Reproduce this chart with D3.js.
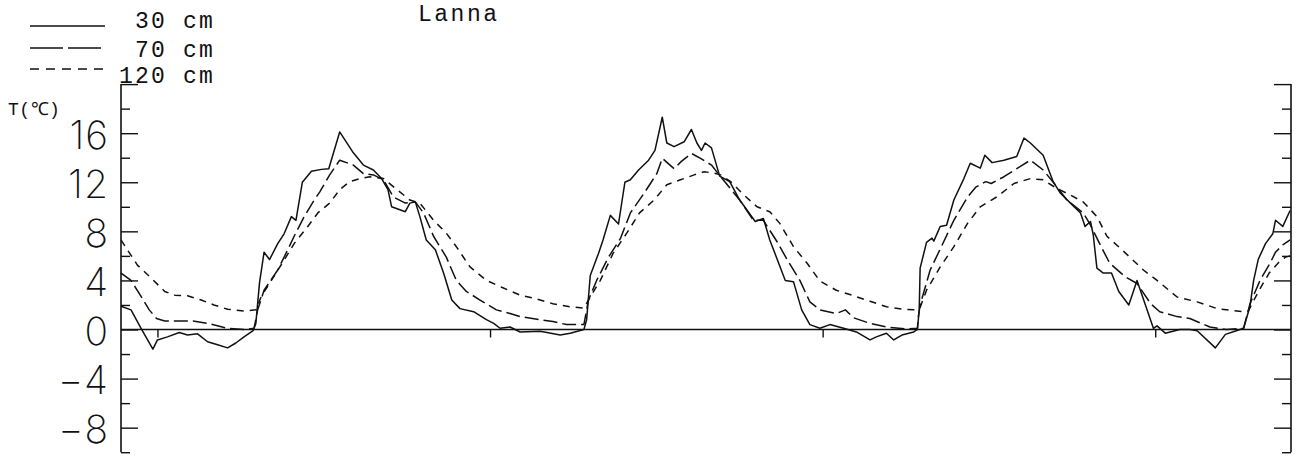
<!DOCTYPE html>
<html>
<head>
<meta charset="utf-8">
<script src="https://cdn.jsdelivr.net/npm/d3@7"></script>
<style>
  html, body { margin: 0; padding: 0; background: #fff; }
  svg { display: block; }
  .mono { font-family: "Liberation Mono", "DejaVu Sans Mono", monospace; fill: #111; }
  .ylab { font-family: "Inter", "Open Sans", "DejaVu Sans", sans-serif; font-weight: 200; fill: #111; }
</style>
</head>
<body>
<svg id="chart" width="1304" height="459"></svg>
<script>
// Soil temperature at Lanna, three depths: [day, °C]; day 0 = start of first year
const soil30cm = [
  [-40,1.9],[-29,1.6],[-18,0.1],[-5,-1.6],[0,-0.85],[11,-0.6],[24,-0.25],[33,-0.45],[44,-0.35],
  [55,-1.0],[66,-1.25],[77,-1.5],[86,-1.1],[95,-0.6],[105,-0.1],[108,0.5],[112,3.8],[117,6.3],
  [123,5.7],[132,7.0],[139,7.8],[147,9.2],[152,8.9],[159,12.0],[169,12.9],[180,13.05],[188,13.1],
  [200,16.1],[215,14.4],[226,13.4],[237,13.0],[246,12.3],[253,11.4],[257,10.0],[272,9.6],[277,10.3],
  [283,10.4],[288,9.2],[295,7.3],[305,6.5],[314,4.6],[323,2.4],[332,1.7],[347,1.45],[361,0.8],
  [369,0.5],[376,0.1],[387,0.2],[398,-0.2],[420,-0.15],[442,-0.45],[453,-0.3],[468,0.0],[471,0.8],
  [475,4.4],[484,6.2],[489,7.3],[497,9.3],[506,8.6],[513,12.0],[519,12.2],[528,13.0],[539,13.8],
  [546,14.6],[554,17.3],[559,15.2],[567,14.9],[578,15.3],[586,16.3],[592,15.2],[597,14.6],[601,15.2],
  [608,14.8],[617,12.5],[628,12.05],[639,10.55],[656,8.8],[665,9.05],[672,7.3],[689,4.0],[698,3.9],
  [707,1.6],[716,0.4],[727,0.1],[738,0.4],[753,0.1],[767,-0.2],[782,-0.85],[789,-0.6],[800,-0.3],
  [808,-0.85],[817,-0.45],[830,-0.2],[834,0.0],[836,1.6],[837,5.0],[844,7.1],[850,7.45],[852,7.2],
  [859,8.4],[866,8.5],[874,10.55],[885,12.3],[892,13.55],[903,13.15],[908,14.2],[916,13.6],[929,13.8],
  [943,14.1],[951,15.6],[958,15.2],[972,14.2],[983,12.05],[991,11.1],[1002,10.3],[1013,9.5],[1018,8.4],
  [1024,8.8],[1027,7.7],[1031,5.0],[1038,4.6],[1047,4.6],[1055,3.1],[1066,2.0],[1075,4.0],[1093,0.1],
  [1097,0.3],[1106,-0.3],[1122,0.0],[1133,0.0],[1141,-0.1],[1161,-1.5],[1172,-0.4],[1184,-0.1],
  [1192,0.1],[1199,1.9],[1203,4.0],[1208,5.7],[1216,7.0],[1224,7.8],[1227,8.9],[1235,8.4],[1243,9.7]
];
const soil70cm = [
  [-40,4.6],[-29,4.0],[-18,2.7],[-9,1.6],[-1,0.9],[8,0.7],[39,0.7],[55,0.5],[77,0.1],[95,0.0],
  [106,0.1],[110,1.6],[117,3.2],[132,4.85],[143,6.5],[150,7.6],[161,9.2],[172,10.55],[178,11.2],
  [189,12.6],[200,13.8],[215,13.4],[226,12.7],[237,12.6],[248,12.2],[259,10.8],[272,10.3],[283,10.4],
  [292,9.5],[303,7.6],[317,5.9],[328,4.0],[339,3.1],[354,2.4],[372,1.6],[387,1.3],[398,1.05],
  [420,0.8],[434,0.65],[449,0.4],[468,0.4],[473,2.4],[482,4.0],[495,5.9],[508,7.4],[519,9.5],
  [534,11.1],[548,12.7],[554,13.95],[567,13.1],[575,13.7],[586,14.35],[596,13.95],[608,13.4],
  [617,12.55],[639,10.55],[654,8.9],[665,8.9],[680,7.15],[691,5.7],[705,4.0],[716,2.25],[727,1.6],
  [745,1.3],[755,1.6],[764,0.95],[782,0.5],[800,0.2],[823,0.05],[834,0.1],[835,1.0],[837,2.0],
  [848,4.85],[859,6.55],[874,8.9],[889,10.8],[898,11.6],[909,12.05],[915,11.9],[929,12.45],
  [947,13.3],[958,13.8],[972,13.0],[987,11.65],[998,10.55],[1016,9.5],[1024,8.5],[1034,7.0],
  [1045,5.4],[1062,4.3],[1075,3.75],[1090,2.1],[1100,1.45],[1119,1.05],[1133,0.9],[1155,0.2],
  [1173,0.0],[1192,0.1],[1199,2.1],[1210,4.0],[1221,5.4],[1227,6.3],[1235,6.9],[1243,7.3]
];
const soil120cm = [
  [-40,7.3],[-33,6.5],[-22,5.25],[-7,4.2],[8,3.1],[19,2.8],[33,2.75],[48,2.4],[62,2.0],[77,1.65],
  [95,1.5],[108,1.6],[114,2.7],[125,4.0],[139,5.65],[150,7.0],[165,8.4],[176,9.5],[189,10.3],
  [200,11.4],[211,12.05],[222,12.3],[233,12.45],[248,12.3],[263,11.4],[277,10.55],[288,10.3],
  [303,8.9],[317,7.85],[328,6.75],[343,5.1],[361,4.0],[379,3.4],[398,2.8],[416,2.5],[434,2.1],
  [453,1.85],[468,1.75],[475,2.65],[486,4.0],[500,6.2],[515,7.85],[529,9.5],[545,10.55],[559,11.8],
  [574,12.2],[589,12.6],[600,12.85],[611,12.75],[618,12.6],[629,12.05],[643,11.0],[658,10.0],
  [672,9.6],[683,8.65],[698,6.75],[713,5.4],[727,3.95],[745,3.2],[764,2.75],[782,2.3],[800,1.85],
  [819,1.65],[830,1.6],[837,1.8],[844,3.2],[859,5.1],[874,6.75],[889,8.65],[903,10.0],[921,10.8],
  [940,11.9],[958,12.3],[972,12.2],[987,11.5],[1002,10.95],[1016,10.4],[1031,9.2],[1042,7.6],
  [1057,6.6],[1082,4.85],[1097,4.0],[1119,2.65],[1141,2.25],[1163,1.7],[1192,1.45],[1197,1.5],
  [1209,3.2],[1220,4.6],[1231,5.5],[1238,5.9],[1243,6.0]
];

const seriesNames = ["30 cm", "70 cm", "120 cm"];
const dayDomain = [-40, 1244];
const tempDomain = [-10, 20];
const yMajorTicks = [-8, -4, 0, 4, 8, 12, 16, 20];
const yMinorTicks = [-10, -6, -2, 2, 6, 10, 14, 18];
const yLabelValues = [-8, -4, 0, 4, 8, 12, 16];
const yTickLabels = ["−8", "−4", "0", "4", "8", "12", "16"];
const yearTicks = [0, 365, 730, 1095];
const siteName = "Lanna";
const yAxisTitle = "T(℃)";

const svg = d3.select("#chart");
const left = 121, right = 1291;
const x = d3.scaleLinear().domain(dayDomain).range([left, right]);
const y = d3.scaleLinear().domain(tempDomain).range([452.2, 84.1]);

const ink = "#111";
const dashes = [null, "14,5", "7,6"];

// frame: left and right vertical axes with inward ticks
const leftAxis = d3.axisRight(y).tickValues(yMajorTicks).tickSize(17).tickFormat("");
const rightAxis = d3.axisLeft(y).tickValues(yMajorTicks).tickSize(17).tickFormat("");
const leftMinor = d3.axisRight(y).tickValues(yMinorTicks).tickSize(9).tickFormat("");
const rightMinor = d3.axisLeft(y).tickValues(yMinorTicks).tickSize(9).tickFormat("");

function styleAxis(g) {
  g.selectAll("path.domain").attr("stroke", ink).attr("stroke-width", 1.6);
  g.selectAll("line").attr("stroke", ink).attr("stroke-width", 1.4);
}
svg.append("g").attr("transform", `translate(${left},0)`).call(leftAxis).call(styleAxis)
  .select("path.domain").attr("d", `M0,${y(20)}V${y(-10)}`);
svg.append("g").attr("transform", `translate(${left},0)`).call(leftMinor).call(styleAxis)
  .select("path.domain").remove();
svg.append("g").attr("transform", `translate(${right},0)`).call(rightAxis).call(styleAxis)
  .select("path.domain").attr("d", `M0,${y(20)}V${y(-10)}`);
svg.append("g").attr("transform", `translate(${right},0)`).call(rightMinor).call(styleAxis)
  .select("path.domain").remove();

// zero line with year ticks
const zeroAxis = d3.axisBottom(x).tickValues(yearTicks).tickSize(8).tickFormat("");
svg.append("g").attr("transform", `translate(0,${y(0)})`).call(zeroAxis).call(styleAxis)
  .select("path.domain").attr("d", `M${left},0H${right}`);

// y tick labels
svg.append("g").selectAll("text")
  .data(yLabelValues)
  .join("text")
  .attr("class", "ylab")
  .attr("font-size", 39)
  .attr("text-anchor", "end")
  .attr("dominant-baseline", "central")
  .attr("letter-spacing", 1)
  .attr("transform", d => `translate(109,${y(d) + 1}) scale(1,1)`)
  .text((d, i) => yTickLabels[i]);

// series
const line = d3.line().x(d => x(d[0])).y(d => y(d[1]));
[soil30cm, soil70cm, soil120cm].forEach((data, i) => {
  svg.append("path")
    .datum(data)
    .attr("fill", "none")
    .attr("stroke", ink)
    .attr("stroke-width", 1.5)
    .attr("stroke-linejoin", "round")
    .attr("stroke-dasharray", dashes[i])
    .attr("d", line);
});

// legend
const legendRows = [26, 48, 69];
const legendBase = [28, 57, 83];
const legendDash = [null, "33,5", "9,7"];
seriesNames.forEach((name, i) => {
  svg.append("line")
    .attr("x1", 30).attr("x2", 105)
    .attr("y1", legendRows[i]).attr("y2", legendRows[i])
    .attr("stroke", ink).attr("stroke-width", 1.5)
    .attr("stroke-dasharray", legendDash[i]);
  svg.append("text")
    .attr("class", "mono")
    .attr("font-size", 23)
    .attr("letter-spacing", 2.2)
    .attr("x", 135 - (name.length - 5) * 16)
    .attr("y", legendBase[i])
    .text(name);
});

// site title and axis title
svg.append("text").attr("class", "mono").attr("font-size", 23).attr("letter-spacing", 2.5)
  .attr("x", 418).attr("y", 21).text(siteName);
svg.append("text").attr("class", "mono").attr("font-size", 18).attr("letter-spacing", 0.5)
  .attr("x", 8).attr("y", 115).text(yAxisTitle);
</script>
</body>
</html>
